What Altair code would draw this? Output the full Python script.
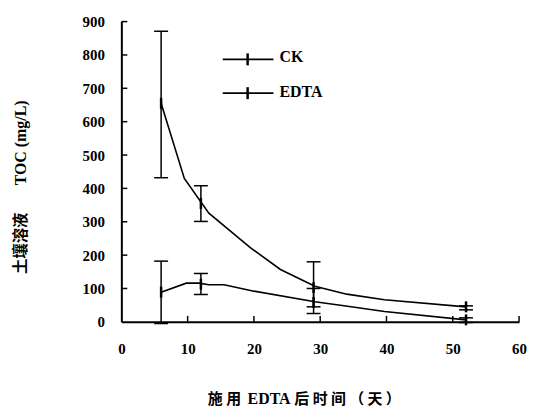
import altair as alt
import pandas as pd

# ---- data ----
days_err = [6, 12, 29, 52]
ck_mean = [89, 113, 58, 6]
ck_low = [-5, 82, 45, -2]
ck_high = [182, 145, 100, 12]
edta_mean = [655, 355, 103, 45]
edta_low = [432, 301, 25, 36]
edta_high = [871, 408, 180, 48]

ck_line_x = [6, 9.8, 11.7, 13.2, 15.5, 20, 29.2, 33.6, 39.7, 52]
ck_line_y = [89, 116, 116, 111, 111, 92, 60, 48, 31, 6]
edta_line_x = [6, 9.5, 13.2, 19.5, 24, 29.2, 34, 39.7, 52]
edta_line_y = [655, 430, 326, 222, 157, 107, 83, 66, 45]

series_names = ["CK", "EDTA"]
x_ticks = [0, 10, 20, 30, 40, 50, 60]
y_ticks = [0, 100, 200, 300, 400, 500, 600, 700, 800, 900]
y_title_cjk = "土壤溶液"
y_title_lat = "TOC (mg/L)"
x_title_parts = ["施 用", "EDTA", "后 时 间 （ 天 ）"]

W, H = 400, 302
SERIF = "Liberation Serif, Times New Roman, serif"
CJK = "Noto Sans CJK SC"

lines = pd.DataFrame(
    [{"s": "CK", "x": a, "y": b} for a, b in zip(ck_line_x, ck_line_y)]
    + [{"s": "EDTA", "x": a, "y": b} for a, b in zip(edta_line_x, edta_line_y)]
)
err = pd.DataFrame(
    [{"s": "CK", "x": d, "m": m, "lo": lo, "hi": hi}
     for d, m, lo, hi in zip(days_err, ck_mean, ck_low, ck_high)]
    + [{"s": "EDTA", "x": d, "m": m, "lo": lo, "hi": hi}
       for d, m, lo, hi in zip(days_err, edta_mean, edta_low, edta_high)]
)

xs = alt.Scale(domain=[0, 60], nice=False, zero=False)
ys = alt.Scale(domain=[0, 900], nice=False)

axis_common = dict(title=None, ticks=False, grid=False, domainColor="black",
                   domainWidth=2, labelFont=SERIF, labelFontWeight="bold",
                   labelFontSize=15, labelColor="black", labelOverlap=False,
                   labelFlush=False)
xax = alt.Axis(values=x_ticks, labelPadding=20, **axis_common)
yax = alt.Axis(values=y_ticks, labelPadding=17, **axis_common)

base_lines = alt.Chart(lines).mark_line(color="black", strokeWidth=1.6).encode(
    x=alt.X("x:Q", scale=xs, axis=xax),
    y=alt.Y("y:Q", scale=ys, axis=yax),
    detail="s:N",
)

ebase = alt.Chart(err)
bars = ebase.mark_rule(color="black", strokeWidth=1.5).encode(
    x=alt.X("x:Q", scale=xs, axis=xax), y=alt.Y("lo:Q", scale=ys, axis=yax), y2="hi:Q"
)
cap_lo = ebase.mark_point(shape="stroke", size=196, color="black",
                          strokeWidth=1.5, filled=False, opacity=1).encode(
    x=alt.X("x:Q", scale=xs, axis=xax), y=alt.Y("lo:Q", scale=ys, axis=yax)
)
cap_hi = ebase.mark_point(shape="stroke", size=196, color="black",
                          strokeWidth=1.5, filled=False, opacity=1).encode(
    x=alt.X("x:Q", scale=xs, axis=xax), y=alt.Y("hi:Q", scale=ys, axis=yax)
)
markers = ebase.mark_point(shape="stroke", size=121, angle=90, color="black",
                           strokeWidth=2.5, filled=False, opacity=1).encode(
    x=alt.X("x:Q", scale=xs, axis=xax), y=alt.Y("m:Q", scale=ys, axis=yax)
)

# inward ticks
xt = alt.Chart(pd.DataFrame({"v": x_ticks[1:]})).mark_rule(
    color="black", strokeWidth=1.5).encode(
    x=alt.X("v:Q", scale=xs, axis=xax), y=alt.value(H), y2=alt.value(H - 6)
)
yt = alt.Chart(pd.DataFrame({"v": y_ticks[1:]})).mark_rule(
    color="black", strokeWidth=1.5).encode(
    y=alt.Y("v:Q", scale=ys, axis=yax), x=alt.value(0), x2=alt.value(6)
)

# legend
leg_df = pd.DataFrame({"s": series_names, "yy": [38, 72], "ty": [41, 75.5]})
leg_lines = alt.Chart(leg_df).mark_rule(color="black", strokeWidth=1.6).encode(
    x=alt.value(102), x2=alt.value(153), y=alt.Y("yy:Q", scale=None)
)
leg_marks = alt.Chart(leg_df).mark_point(shape="stroke", size=144, angle=90,
                                         color="black", strokeWidth=2.5,
                                         filled=False, opacity=1).encode(
    x=alt.value(127), y=alt.Y("yy:Q", scale=None)
)
leg_text = alt.Chart(leg_df).mark_text(font=SERIF, fontWeight="bold", fontSize=16,
                                       align="left", baseline="alphabetic",
                                       color="black").encode(
    x=alt.value(159), y=alt.Y("ty:Q", scale=None), text="s:N"
)

# axis titles
yt1 = alt.Chart(pd.DataFrame({"t": [y_title_cjk]})).mark_text(
    font=CJK, fontWeight="bold", fontSize=15.5, angle=270, align="center",
    baseline="middle", color="black").encode(
    x=alt.value(-101), y=alt.value(223), text="t:N")
yt2 = alt.Chart(pd.DataFrame({"t": [y_title_lat]})).mark_text(
    font=SERIF, fontWeight="bold", fontSize=16, angle=270, align="center",
    baseline="middle", color="black").encode(
    x=alt.value(-101), y=alt.value(122), text="t:N")

xt1 = alt.Chart(pd.DataFrame({"t": [x_title_parts[0]]})).mark_text(
    font=CJK, fontWeight="bold", fontSize=15, align="left", baseline="middle",
    color="black").encode(x=alt.value(87), y=alt.value(380), text="t:N")
xt2 = alt.Chart(pd.DataFrame({"t": [x_title_parts[1]]})).mark_text(
    font=SERIF, fontWeight="bold", fontSize=16, align="left",
    baseline="alphabetic", color="black").encode(
    x=alt.value(127), y=alt.value(385), text="t:N")
xt3 = alt.Chart(pd.DataFrame({"t": [x_title_parts[2]]})).mark_text(
    font=CJK, fontWeight="bold", fontSize=15, align="left", baseline="middle",
    color="black").encode(x=alt.value(174), y=alt.value(380), text="t:N")

chart = alt.layer(
    base_lines, bars, cap_lo, cap_hi, markers, xt, yt,
    leg_lines, leg_marks, leg_text, yt1, yt2, xt1, xt2, xt3
).properties(
    width=W, height=H,
    autosize=alt.AutoSizeParams(type="none"),
    padding={"left": 114, "top": 12.5, "right": 10, "bottom": 88},
    background="white",
).configure_view(stroke=None).configure_axis(
    labelFont=SERIF, labelFontWeight="bold", labelFontSize=15,
)

chart.save("out.html", embed_options={"renderer": "svg", "actions": False})
